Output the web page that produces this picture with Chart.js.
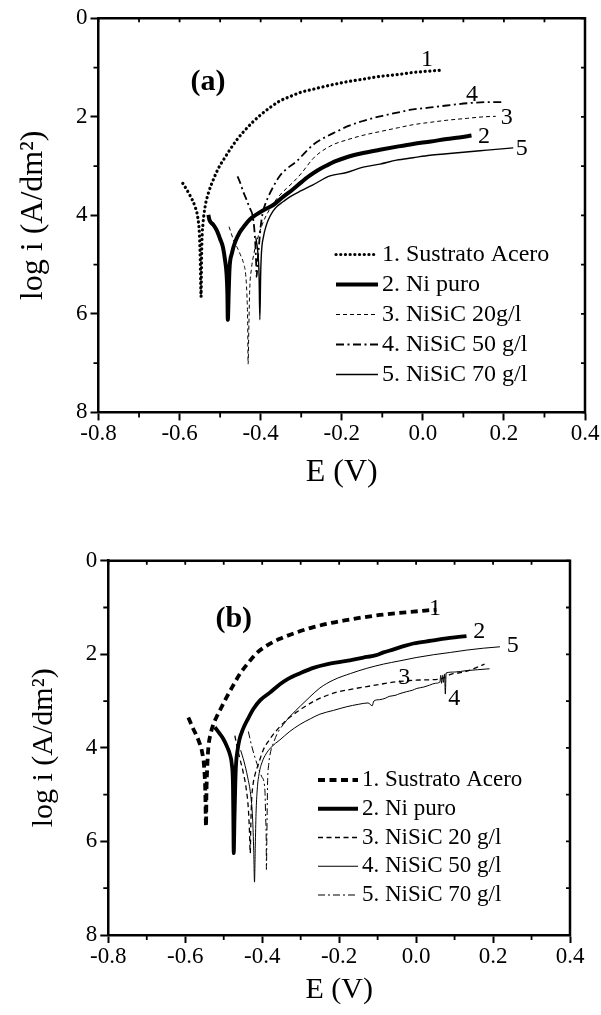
<!DOCTYPE html>
<html>
<head>
<meta charset="utf-8">
<script src="https://cdn.jsdelivr.net/npm/chart.js@4.4.1/dist/chart.umd.min.js"></script>
<style>
  html, body { margin: 0; padding: 0; background: #fff; }
  #wrapA { position: absolute; left: 0; top: 0; width: 601px; height: 500px; }
  #wrapB { position: absolute; left: 0; top: 500px; width: 601px; height: 515px; }
</style>
</head>
<body>
<div id="wrapA"><canvas id="chartA"></canvas></div>
<div id="wrapB"><canvas id="chartB"></canvas></div>
<script>
// axis ticks
const xTicks = [-0.8, -0.6, -0.4, -0.2, 0.0, 0.2, 0.4];
const xMinor = [-0.7, -0.5, -0.3, -0.1, 0.1, 0.3];
const yTicks = [0, 2, 4, 6, 8];
const yMinor = [1, 3, 5, 7];

// panel (a): [E (V), log i]
const aSustrato = [[-0.592,3.35],[-0.583,3.47],[-0.574,3.60],[-0.562,3.82],[-0.555,4.05],[-0.551,4.40],[-0.549,4.90],[-0.547,5.65],[-0.546,5.00],[-0.545,4.55],[-0.542,4.15],[-0.537,3.82],[-0.529,3.55],[-0.517,3.28],[-0.504,3.04],[-0.490,2.85],[-0.476,2.67],[-0.460,2.48],[-0.443,2.31],[-0.420,2.11],[-0.400,1.96],[-0.375,1.80],[-0.353,1.68],[-0.325,1.58],[-0.300,1.50],[-0.271,1.44],[-0.230,1.36],[-0.188,1.29],[-0.150,1.24],[-0.106,1.18],[-0.060,1.14],[-0.024,1.10],[0.020,1.07],[0.050,1.05]];
const aNiPuro = [[-0.529,3.99],[-0.526,4.10],[-0.517,4.19],[-0.508,4.31],[-0.500,4.48],[-0.493,4.65],[-0.488,4.90],[-0.484,5.20],[-0.482,5.60],[-0.481,6.12],[-0.479,5.60],[-0.477,5.10],[-0.471,4.77],[-0.462,4.52],[-0.452,4.35],[-0.440,4.21],[-0.425,4.07],[-0.410,3.98],[-0.390,3.88],[-0.369,3.79],[-0.344,3.62],[-0.320,3.47],[-0.300,3.33],[-0.280,3.20],[-0.260,3.09],[-0.240,3.00],[-0.215,2.90],[-0.188,2.82],[-0.150,2.74],[-0.106,2.67],[-0.060,2.60],[-0.024,2.55],[0.020,2.50],[0.059,2.45],[0.090,2.42],[0.120,2.38]];
const aNiSiC20 = [[-0.478,4.23],[-0.472,4.38],[-0.467,4.50],[-0.458,4.65],[-0.450,4.80],[-0.442,4.98],[-0.437,5.20],[-0.434,5.60],[-0.432,6.20],[-0.431,7.02],[-0.429,6.20],[-0.427,5.50],[-0.423,5.10],[-0.416,4.75],[-0.405,4.40],[-0.393,4.12],[-0.378,3.88],[-0.360,3.66],[-0.336,3.45],[-0.319,3.32],[-0.300,3.15],[-0.271,2.85],[-0.253,2.72],[-0.220,2.56],[-0.188,2.47],[-0.150,2.38],[-0.106,2.30],[-0.060,2.22],[-0.024,2.16],[0.020,2.11],[0.059,2.07],[0.110,2.03],[0.150,2.00],[0.180,1.99]];
const aNiSiC50 = [[-0.457,3.21],[-0.450,3.35],[-0.443,3.52],[-0.435,3.68],[-0.427,3.85],[-0.420,4.00],[-0.416,4.25],[-0.413,4.60],[-0.411,5.00],[-0.410,5.25],[-0.408,5.00],[-0.406,4.78],[-0.403,4.50],[-0.400,4.23],[-0.395,3.95],[-0.389,3.78],[-0.380,3.60],[-0.369,3.42],[-0.353,3.20],[-0.335,3.05],[-0.311,2.90],[-0.290,2.72],[-0.271,2.57],[-0.240,2.41],[-0.210,2.29],[-0.188,2.20],[-0.150,2.09],[-0.106,1.99],[-0.060,1.91],[-0.024,1.85],[0.020,1.81],[0.059,1.77],[0.116,1.72],[0.160,1.70],[0.195,1.70]];
const aNiSiC70 = [[-0.412,4.45],[-0.407,4.75],[-0.404,5.20],[-0.402,6.12],[-0.400,5.20],[-0.398,4.75],[-0.393,4.43],[-0.386,4.20],[-0.381,4.09],[-0.370,3.92],[-0.360,3.82],[-0.344,3.72],[-0.327,3.62],[-0.300,3.50],[-0.271,3.38],[-0.229,3.20],[-0.188,3.13],[-0.147,3.02],[-0.106,2.96],[-0.065,2.88],[-0.024,2.83],[0.018,2.78],[0.059,2.75],[0.100,2.72],[0.141,2.69],[0.180,2.66],[0.223,2.63]];
const aLegend = ['1. Sustrato Acero', '2. Ni puro', '3. NiSiC 20g/l', '4. NiSiC 50 g/l', '5. NiSiC 70 g/l'];
const aTags = [['1',0.010,0.85],['4',0.121,1.56],['3',0.207,2.01],['2',0.151,2.40],['5',0.244,2.65]];
const aLetter = ['(a)', -0.530, 1.29];

// panel (b)
const bSustrato = [[-0.592,3.35],[-0.580,3.58],[-0.566,3.83],[-0.556,4.10],[-0.551,4.40],[-0.548,4.90],[-0.546,5.68],[-0.545,5.00],[-0.543,4.45],[-0.540,4.00],[-0.534,3.70],[-0.527,3.50],[-0.518,3.33],[-0.505,3.12],[-0.492,2.91],[-0.475,2.66],[-0.458,2.42],[-0.436,2.18],[-0.415,1.98],[-0.385,1.80],[-0.354,1.67],[-0.310,1.53],[-0.267,1.42],[-0.220,1.33],[-0.181,1.27],[-0.137,1.21],[-0.094,1.16],[-0.050,1.12],[-0.007,1.09],[0.030,1.06],[0.053,1.05]];
const bNiPuro = [[-0.523,3.56],[-0.512,3.68],[-0.501,3.81],[-0.490,4.00],[-0.484,4.14],[-0.479,4.35],[-0.476,4.80],[-0.475,5.50],[-0.474,6.25],[-0.472,5.50],[-0.470,4.80],[-0.468,4.35],[-0.464,4.05],[-0.459,3.82],[-0.450,3.60],[-0.437,3.38],[-0.423,3.17],[-0.405,2.98],[-0.380,2.82],[-0.354,2.64],[-0.336,2.54],[-0.300,2.40],[-0.267,2.29],[-0.230,2.21],[-0.181,2.14],[-0.137,2.07],[-0.115,2.04],[-0.100,2.01],[-0.085,1.96],[-0.060,1.90],[-0.030,1.82],[-0.007,1.77],[0.040,1.71],[0.079,1.66],[0.110,1.63],[0.131,1.61]];
const bNiSiC20 = [[-0.471,3.74],[-0.466,3.95],[-0.459,4.20],[-0.450,4.50],[-0.442,4.85],[-0.436,5.30],[-0.433,5.80],[-0.431,6.25],[-0.430,5.80],[-0.428,5.20],[-0.424,4.80],[-0.418,4.55],[-0.410,4.35],[-0.397,4.04],[-0.384,3.86],[-0.362,3.62],[-0.336,3.40],[-0.302,3.19],[-0.267,3.01],[-0.215,2.83],[-0.170,2.75],[-0.128,2.69],[-0.085,2.63],[-0.042,2.58],[0.010,2.55],[0.062,2.53],[0.072,2.50],[0.090,2.43],[0.110,2.40],[0.132,2.36],[0.155,2.29],[0.178,2.21]];
const bNiSiC50 = [[-0.456,4.05],[-0.447,4.30],[-0.438,4.62],[-0.430,5.00],[-0.425,5.50],[-0.422,6.20],[-0.420,6.87],[-0.418,6.10],[-0.416,5.40],[-0.413,4.90],[-0.408,4.55],[-0.400,4.30],[-0.390,4.13],[-0.378,4.00],[-0.365,3.90],[-0.354,3.83],[-0.330,3.66],[-0.302,3.50],[-0.275,3.38],[-0.250,3.28],[-0.215,3.20],[-0.180,3.12],[-0.150,3.07],[-0.125,3.04],[-0.114,3.10],[-0.110,3.00],[-0.095,2.97],[-0.080,2.94],[-0.070,2.90],[-0.055,2.88],[-0.042,2.84],[-0.025,2.80],[-0.010,2.77],[0.002,2.73],[0.020,2.70],[0.035,2.66],[0.050,2.62],[0.062,2.59],[0.064,2.45],[0.066,2.62],[0.069,2.45],[0.071,2.60],[0.074,2.42],[0.076,2.85],[0.078,2.40],[0.100,2.38],[0.130,2.35],[0.160,2.33],[0.191,2.31]];
const bNiSiC70 = [[-0.436,3.65],[-0.427,3.97],[-0.414,4.33],[-0.401,4.62],[-0.393,4.90],[-0.391,5.50],[-0.3895,6.00],[-0.389,6.60],[-0.388,6.00],[-0.387,5.30],[-0.386,4.75],[-0.383,4.35],[-0.378,4.08],[-0.370,3.88],[-0.360,3.68],[-0.345,3.50],[-0.328,3.33],[-0.300,3.10],[-0.276,2.91],[-0.250,2.72],[-0.215,2.55],[-0.170,2.41],[-0.128,2.30],[-0.085,2.21],[-0.042,2.14],[0.000,2.07],[0.045,2.01],[0.090,1.96],[0.132,1.91],[0.175,1.87],[0.218,1.84]];
const bLegend = ['1. Sustrato Acero', '2. Ni puro', '3. NiSiC 20 g/l', '4. NiSiC 50 g/l', '5. NiSiC 70 g/l'];
const bTags = [['1',0.049,1.02],['2',0.164,1.52],['5',0.251,1.82],['3',-0.031,2.51],['4',0.099,2.96]];
const bLetter = ['(b)', -0.474, 1.25];

const serif = "'Liberation Serif', 'Times New Roman', Times, serif";

// line styles
const aStyles = [
  { borderWidth: 3.2, borderDash: [0.1, 4.6], borderCapStyle: 'round' },
  { borderWidth: 4 },
  { borderWidth: 1, borderDash: [4, 3] },
  { borderWidth: 1.8, borderDash: [8, 3.5, 2, 3.5] },
  { borderWidth: 1.4 }
];
const bStyles = [
  { borderWidth: 3.8, borderDash: [7, 4.5] },
  { borderWidth: 3.8 },
  { borderWidth: 1.3, borderDash: [5, 3.5] },
  { borderWidth: 1 },
  { borderWidth: 1, borderDash: [], legendDash: [7, 3, 2, 3],
    segment: { borderDash: c => (c.p0.parsed.y > 3.6 ? [7, 3, 2, 3] : undefined) } }
];

function toPoints(arr) {
  return arr.map(p => ({ x: p[0], y: p[1] }));
}

function fmtX(v) {
  return (Math.abs(v) < 1e-9 ? 0 : v).toFixed(1);
}

const framePlugin = {
  id: 'frame',
  afterDraw(chart) {
    const { ctx, chartArea: a } = chart;
    const x = chart.scales.x, y = chart.scales.y;
    ctx.save();
    ctx.strokeStyle = '#000';
    ctx.lineWidth = 2.5;
    ctx.beginPath();
    ctx.moveTo(a.left - 1.25, a.top);
    ctx.lineTo(a.right, a.top);
    ctx.lineTo(a.right, a.bottom + 1.25);
    ctx.stroke();
    ctx.lineWidth = 1.8;
    ctx.beginPath();
    xMinor.forEach(v => { const p = x.getPixelForValue(v); ctx.moveTo(p, a.bottom); ctx.lineTo(p, a.bottom + 5); });
    yMinor.forEach(v => { const p = y.getPixelForValue(v); ctx.moveTo(a.left, p); ctx.lineTo(a.left - 5, p); });
    xTicks.concat(xMinor).forEach(v => { const p = x.getPixelForValue(v); ctx.moveTo(p, a.top); ctx.lineTo(p, a.top + 4); });
    yTicks.concat(yMinor).forEach(v => { const p = y.getPixelForValue(v); ctx.moveTo(a.right, p); ctx.lineTo(a.right - 4, p); });
    ctx.stroke();
    ctx.restore();
  }
};

function notesPlugin(p) {
  return {
    id: 'notes',
    afterDatasetsDraw(chart) {
      const { ctx } = chart;
      const x = chart.scales.x, y = chart.scales.y;
      ctx.save();
      ctx.fillStyle = '#000';
      ctx.strokeStyle = '#000';
      ctx.textBaseline = 'middle';
      ctx.textAlign = 'center';
      ctx.font = '24px ' + serif;
      p.tags.forEach(t => ctx.fillText(t[0], x.getPixelForValue(t[1]), y.getPixelForValue(t[2])));
      ctx.font = 'bold 30px ' + serif;
      ctx.fillText(p.letter[0], x.getPixelForValue(p.letter[1]), y.getPixelForValue(p.letter[2]));
      // legend
      ctx.textAlign = 'left';
      ctx.font = p.legendFont + 'px ' + serif;
      chart.data.datasets.forEach((ds, i) => {
        const yy = p.legendTop + i * p.legendStep;
        ctx.beginPath();
        ctx.lineWidth = ds.borderWidth;
        ctx.lineCap = ds.borderCapStyle || 'butt';
        ctx.setLineDash(ds.legendDash || ds.borderDash || []);
        ctx.moveTo(p.legendX0, yy);
        ctx.lineTo(p.legendX1, yy);
        ctx.stroke();
        ctx.setLineDash([]);
        ctx.fillText(ds.label, p.legendText, yy);
      });
      ctx.restore();
    }
  };
}

function buildPanel(id, p) {
  const datasets = p.series.map((s, i) => Object.assign({
    label: p.legend[i],
    data: toPoints(s),
    borderColor: '#000',
    backgroundColor: '#000',
    pointRadius: 0,
    fill: false,
    cubicInterpolationMode: 'monotone'
  }, p.styles[i]));

  return new Chart(document.getElementById(id), {
    type: 'line',
    data: { datasets },
    options: {
      responsive: true,
      maintainAspectRatio: false,
      animation: false,
      devicePixelRatio: 1,
      layout: { padding: p.pad },
      plugins: { legend: { display: false }, tooltip: { enabled: false } },
      scales: {
        x: {
          type: 'linear', min: -0.8, max: 0.4,
          afterBuildTicks: s => { s.ticks = xTicks.map(v => ({ value: v })); },
          afterFit: s => { s.height = p.xAxisH; },
          ticks: { color: '#000', font: { family: serif, size: 23 }, padding: 0, maxRotation: 0, autoSkip: false, callback: v => fmtX(v) },
          grid: { drawOnChartArea: false, color: '#000', tickLength: 8, tickWidth: 2 },
          border: { color: '#000', width: 2.5 },
          title: { display: true, text: 'E (V)', color: '#000', font: { family: serif, size: p.titleSize }, padding: { top: 0, bottom: p.xTitlePad } }
        },
        y: {
          type: 'linear', min: 0, max: 8, reverse: true,
          afterBuildTicks: s => { s.ticks = yTicks.map(v => ({ value: v })); },
          afterFit: s => { s.width = p.yAxisW; },
          ticks: { color: '#000', font: { family: serif, size: 23 }, padding: 3, autoSkip: false, callback: v => String(v) },
          grid: { drawOnChartArea: false, color: '#000', tickLength: 8, tickWidth: 2 },
          border: { color: '#000', width: 2.5 },
          title: { display: true, text: 'log i (A/dm²)', color: '#000', font: { family: serif, size: p.titleSize }, padding: { top: p.yTitlePad, bottom: 0 } }
        }
      }
    },
    plugins: [framePlugin, notesPlugin(p)]
  });
}

buildPanel('chartA', {
  series: [aSustrato, aNiPuro, aNiSiC20, aNiSiC50, aNiSiC70],
  legend: aLegend, styles: aStyles, tags: aTags, letter: aLetter,
  pad: { left: 0, right: 16, top: 18.3, bottom: 0 },
  xAxisH: 87.6, yAxisW: 98.5, titleSize: 32, xTitlePad: 7.8, yTitlePad: 14.8,
  legendTop: 254.5, legendStep: 30, legendX0: 336, legendX1: 378, legendText: 382, legendFont: 24
});

buildPanel('chartB', {
  series: [bSustrato, bNiPuro, bNiSiC20, bNiSiC50, bNiSiC70],
  legend: bLegend, styles: bStyles, tags: bTags, letter: bLetter,
  pad: { left: 0, right: 31, top: 60.7, bottom: 0 },
  xAxisH: 80, yAxisW: 108.3, titleSize: 30, xTitlePad: 7, yTitlePad: 26,
  legendTop: 280, legendStep: 28.75, legendX0: 318, legendX1: 358, legendText: 362, legendFont: 23
});
</script>
</body>
</html>
